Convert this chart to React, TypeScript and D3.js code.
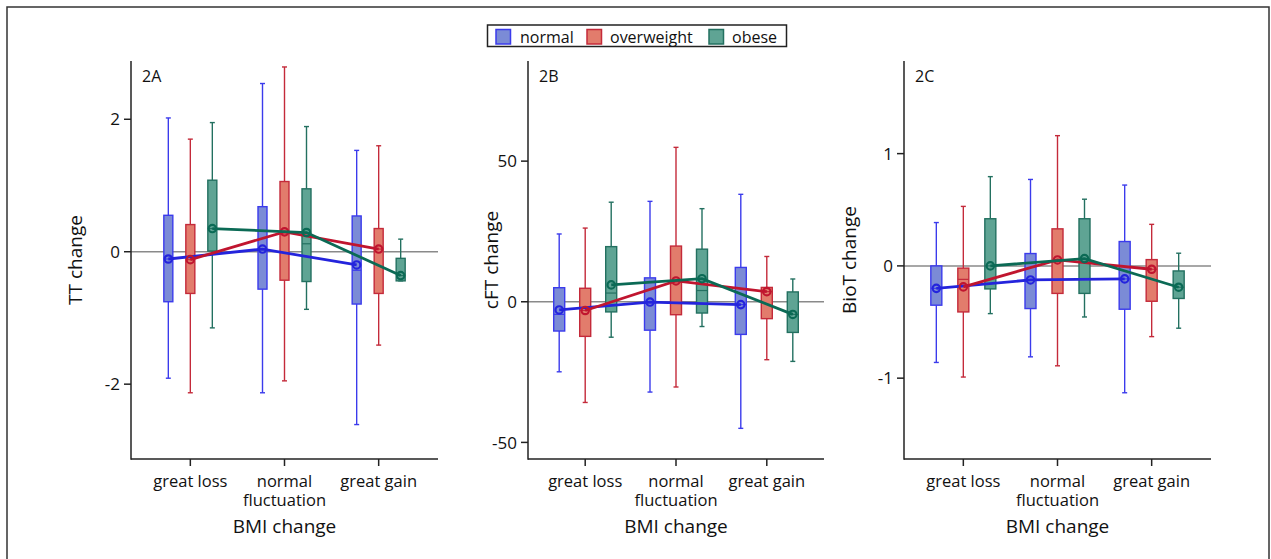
import React from "react";
import * as d3 from "d3";

// ---------- data ----------
const categories = ["great loss", "normal fluctuation", "great gain"];
const categoryLines = [["great loss"], ["normal", "fluctuation"], ["great gain"]];
const groups = ["normal", "overweight", "obese"];

// each entry: [lowWhisker, q1, median, q3, highWhisker, mean] per BMI-change category
const ttNormal = [[-1.91, -0.755, -0.11, 0.55, 2.02, -0.11], [-2.13, -0.565, 0.04, 0.68, 2.54, 0.04], [-2.61, -0.79, -0.28, 0.54, 1.53, -0.2]];
const ttOverweight = [[-2.13, -0.63, -0.12, 0.41, 1.7, -0.12], [-1.95, -0.43, 0.3, 1.06, 2.79, 0.3], [-1.41, -0.63, 0.04, 0.35, 1.6, 0.04]];
const ttObese = [[-1.15, 0.01, 0.35, 1.08, 1.95, 0.35], [-0.87, -0.45, 0.12, 0.95, 1.89, 0.29], [-0.44, -0.44, -0.36, -0.1, 0.19, -0.36]];

const cftNormal = [[-24.9, -10.4, -4.5, 5.0, 24.1, -2.9], [-32.1, -10.1, -0.1, 8.5, 35.7, -0.1], [-45.0, -11.6, -1.0, 12.2, 38.2, -1.0]];
const cftOverweight = [[-35.8, -12.3, -3.1, 4.8, 26.2, -3.1], [-30.3, -4.6, 7.4, 19.8, 54.9, 7.4], [-20.6, -6.0, 3.6, 5.1, 16.1, 3.6]];
const cftObese = [[-12.6, -3.6, 3.1, 19.6, 35.4, 6.0], [-8.8, -4.0, 4.0, 18.7, 33.1, 8.2], [-21.2, -10.9, -4.5, 3.5, 8.1, -4.5]];

const biotNormal = [[-0.86, -0.35, -0.2, 0.0, 0.386, -0.2], [-0.81, -0.38, -0.125, 0.11, 0.77, -0.125], [-1.13, -0.386, -0.116, 0.217, 0.72, -0.116]];
const biotOverweight = [[-0.99, -0.41, -0.12, -0.02, 0.53, -0.187], [-0.89, -0.245, 0.053, 0.33, 1.16, 0.053], [-0.63, -0.315, -0.03, 0.056, 0.37, -0.03]];
const biotObese = [[-0.425, -0.205, 0.0, 0.42, 0.795, 0.0], [-0.455, -0.245, 0.065, 0.42, 0.594, 0.065], [-0.555, -0.29, -0.19, -0.045, 0.113, -0.19]];

const ttTicks = [-2, 0, 2];
const cftTicks = [-50, 0, 50];
const biotTicks = [-1, 0, 1];
const ttDomain = [-3.13, 2.88];
const cftDomain = [-55.9, 85.6];
const biotDomain = [-1.72, 1.825];

// ---------- styles ----------
const FONT = "'Open Sans', 'Noto Sans', sans-serif";
const lineColors = ["#2424dc", "#c0152f", "#0b6a55"];
const boxStroke = ["#3b3bec", "#c42a3a", "#237060"];
const boxFill = ["#7b8bd6", "#e27c6c", "#5fa494"];
const TOP = 61;
const BOTTOM = 459;

type PanelCfg = {
  label: string;
  title: string;
  x0: number;
  x1: number;
  titleX: number;
  domain: number[];
  ticks: number[];
  data: number[][][];
  offset: number;
  boxW: number;
};

const panels: PanelCfg[] = [
  { label: "2A", title: "TT change", x0: 131, x1: 438, titleX: 82, domain: ttDomain, ticks: ttTicks, data: [ttNormal, ttOverweight, ttObese], offset: 22, boxW: 9 },
  { label: "2B", title: "cFT change", x0: 528, x1: 824, titleX: 498, domain: cftDomain, ticks: cftTicks, data: [cftNormal, cftOverweight, cftObese], offset: 26, boxW: 11 },
  { label: "2C", title: "BioT change", x0: 904, x1: 1211, titleX: 856, domain: biotDomain, ticks: biotTicks, data: [biotNormal, biotOverweight, biotObese], offset: 27, boxW: 11 },
];

function Panel({ cfg }: { cfg: PanelCfg }) {
  const x = d3.scalePoint<string>().domain(categories).range([cfg.x0, cfg.x1]).padding(0.63);
  const y = d3.scaleLinear().domain(cfg.domain).range([BOTTOM, TOP]);
  const offsets = [-cfg.offset, 0, cfg.offset];
  const cap = 2.5;
  const line = d3
    .line<[number, number]>()
    .x((d) => d[0])
    .y((d) => d[1]);

  return (
    <g>
      {/* zero reference line */}
      <line x1={cfg.x0} x2={cfg.x1} y1={y(0)} y2={y(0)} stroke="#8a8a8a" strokeWidth={1.5} />
      {/* boxes */}
      {cfg.data.map((series, gi) => (
        <g key={gi}>
          {series.map((s, ci) => {
            const cx = (x(categories[ci]) as number) + offsets[gi];
            const [lo, q1, med, q3, hi] = s;
            const bw = cfg.boxW;
            return (
              <g key={ci} stroke={boxStroke[gi]}>
                <line x1={cx} x2={cx} y1={y(hi)} y2={y(q3)} strokeWidth={1.4} />
                <line x1={cx} x2={cx} y1={y(q1)} y2={y(lo)} strokeWidth={1.4} />
                <line x1={cx - cap} x2={cx + cap} y1={y(hi)} y2={y(hi)} strokeWidth={1.4} />
                <line x1={cx - cap} x2={cx + cap} y1={y(lo)} y2={y(lo)} strokeWidth={1.4} />
                <rect x={cx - bw / 2} y={y(q3)} width={bw} height={Math.max(0.5, y(q1) - y(q3))} fill={boxFill[gi]} strokeWidth={1.4} />
                <line x1={cx - bw / 2} x2={cx + bw / 2} y1={y(med)} y2={y(med)} strokeWidth={1.2} />
              </g>
            );
          })}
        </g>
      ))}
      {/* mean lines */}
      {cfg.data.map((series, gi) => {
        const pts: [number, number][] = series.map((s, ci) => [(x(categories[ci]) as number) + offsets[gi], y(s[5])]);
        return (
          <g key={"m" + gi}>
            <path d={line(pts) || ""} fill="none" stroke={lineColors[gi]} strokeWidth={2.8} />
            {pts.map((p, i) => (
              <circle key={i} cx={p[0]} cy={p[1]} r={3.7} fill="none" stroke={lineColors[gi]} strokeWidth={2.2} />
            ))}
          </g>
        );
      })}
      {/* axes */}
      <line x1={cfg.x0} x2={cfg.x0} y1={TOP} y2={BOTTOM + 0.75} stroke="#222" strokeWidth={1.5} />
      <line x1={cfg.x0} x2={cfg.x1} y1={BOTTOM} y2={BOTTOM} stroke="#222" strokeWidth={1.5} />
      {cfg.ticks.map((t) => (
        <g key={t}>
          <line x1={cfg.x0 - 7} x2={cfg.x0} y1={y(t)} y2={y(t)} stroke="#222" strokeWidth={1.5} />
          <text x={cfg.x0 - 11} y={y(t)} dy="0.36em" textAnchor="end" fontSize={17} fill="#111" fontFamily={FONT}>
            {String(t)}
          </text>
        </g>
      ))}
      {categories.map((c, ci) => {
        const cx = x(c) as number;
        return (
          <g key={c}>
            <line x1={cx} x2={cx} y1={BOTTOM} y2={BOTTOM + 7} stroke="#222" strokeWidth={1.5} />
            <text x={cx} y={487} textAnchor="middle" fontSize={16.5} fill="#111" fontFamily={FONT}>
              {categoryLines[ci].map((ln, li) => (
                <tspan key={li} x={cx} dy={li === 0 ? 0 : 18.5}>
                  {ln}
                </tspan>
              ))}
            </text>
          </g>
        );
      })}
      <text x={(cfg.x0 + cfg.x1) / 2} y={533} textAnchor="middle" fontSize={19} fill="#111" fontFamily={FONT}>
        BMI change
      </text>
      <text
        transform={`translate(${cfg.titleX},${(TOP + BOTTOM) / 2}) rotate(-90)`}
        textAnchor="middle"
        fontSize={19}
        fill="#111"
        fontFamily={FONT}
      >
        {cfg.title}
      </text>
      <text x={cfg.x0 + 11} y={82} fontSize={16} fill="#111" fontFamily={FONT}>
        {cfg.label}
      </text>
    </g>
  );
}

function Legend() {
  const items = [
    { x: 496, tx: 520 },
    { x: 587, tx: 610 },
    { x: 709, tx: 732 },
  ];
  return (
    <g>
      <rect x={487.5} y={25} width={299} height={21.5} fill="#fff" stroke="#222" strokeWidth={1.5} />
      {groups.map((g, i) => (
        <g key={g}>
          <rect x={items[i].x} y={29.5} width={14.5} height={14.5} fill={boxFill[i]} stroke={boxStroke[i]} strokeWidth={1.5} />
          <text x={items[i].tx} y={42.5} fontSize={16} fill="#111" fontFamily={FONT}>
            {g}
          </text>
        </g>
      ))}
    </g>
  );
}

export default function App() {
  return (
    <div style={{ position: "absolute", left: 0, top: 0 }}>
      <svg width={1271} height={559} style={{ display: "block", background: "#fff" }}>
        <rect x={7} y={7} width={1262} height={570} fill="#fff" stroke="#333" strokeWidth={1.5} />
        {panels.map((p) => (
          <Panel key={p.label} cfg={p} />
        ))}
        <Legend />
      </svg>
    </div>
  );
}
